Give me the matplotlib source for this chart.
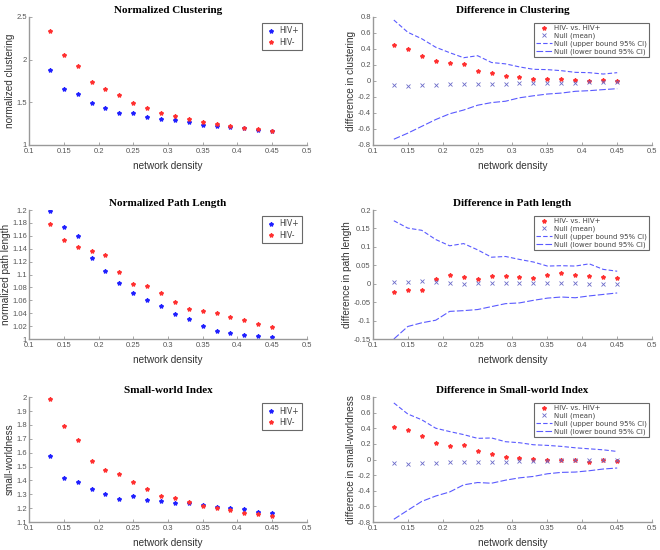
import numpy as np
import matplotlib
matplotlib.use("Agg")
import matplotlib.pyplot as plt
from matplotlib.ticker import FuncFormatter

plt.rcParams["axes.unicode_minus"] = False

# densidad de red (eje x comun)
density = [0.13, 0.15, 0.17, 0.19, 0.21, 0.23, 0.25, 0.27, 0.29,
           0.31, 0.33, 0.35, 0.37, 0.39, 0.41, 0.43, 0.45]

# =========================================================
# Datos
# =========================================================
clus_pos = [1.88, 1.66, 1.60, 1.49, 1.43, 1.37, 1.37, 1.33, 1.31,
            1.29, 1.27, 1.24, 1.22, 1.21, 1.20, 1.18, 1.165]
clus_neg = [2.34, 2.05, 1.92, 1.74, 1.66, 1.59, 1.49, 1.435, 1.37,
            1.335, 1.30, 1.265, 1.245, 1.225, 1.20, 1.185, 1.16]

path_pos = [1.199, 1.173, 1.160, 1.126, 1.105, 1.087, 1.072, 1.061, 1.051,
            1.039, 1.031, 1.020, 1.012, 1.010, 1.007, 1.005, 1.003]
path_neg = [1.178, 1.153, 1.142, 1.137, 1.130, 1.104, 1.085, 1.082, 1.072,
            1.057, 1.046, 1.044, 1.041, 1.034, 1.030, 1.023, 1.019]

sw_pos = [1.575, 1.42, 1.39, 1.335, 1.30, 1.265, 1.285, 1.26, 1.25,
          1.24, 1.24, 1.225, 1.21, 1.20, 1.195, 1.175, 1.165]
sw_neg = [1.99, 1.79, 1.69, 1.54, 1.475, 1.445, 1.385, 1.335, 1.29,
          1.27, 1.245, 1.215, 1.20, 1.19, 1.165, 1.16, 1.14]

dclus = [0.456, 0.40, 0.316, 0.248, 0.223, 0.214, 0.121, 0.104, 0.062,
         0.045, 0.023, 0.019, 0.023, 0.015, -0.002, 0.011, -0.006]
dclus_null = [-0.045, -0.057, -0.049, -0.053, -0.04, -0.036, -0.036, -0.032, -0.032,
              -0.028, -0.028, -0.023, -0.023, -0.019, -0.015, -0.015, -0.011]
dclus_up = [0.762, 0.609, 0.528, 0.422, 0.354, 0.291, 0.316, 0.231, 0.214,
            0.176, 0.146, 0.142, 0.129, 0.108, 0.104, 0.087, 0.104]
dclus_lo = [-0.728, -0.652, -0.567, -0.482, -0.41, -0.363, -0.303, -0.27, -0.253,
            -0.21, -0.185, -0.163, -0.151, -0.129, -0.121, -0.108, -0.096]

dpath = [-0.022, -0.018, -0.017, 0.012, 0.024, 0.017, 0.013, 0.02, 0.02,
         0.018, 0.015, 0.025, 0.028, 0.023, 0.022, 0.019, 0.015]
dpath_null = [0.006, 0.005, 0.007, 0.005, 0.003, 0.0, 0.001, 0.001, 0.003,
              0.002, 0.002, 0.001, 0.001, 0.001, 0.0, 0.0, 0.0]
dpath_up = [0.171, 0.151, 0.145, 0.12, 0.103, 0.109, 0.092, 0.072, 0.074,
            0.066, 0.059, 0.048, 0.049, 0.048, 0.054, 0.039, 0.034]
dpath_lo = [-0.15, -0.116, -0.106, -0.099, -0.075, -0.073, -0.07, -0.062, -0.054,
            -0.052, -0.045, -0.039, -0.036, -0.038, -0.033, -0.029, -0.025]

dsw = [0.419, 0.376, 0.303, 0.208, 0.177, 0.182, 0.104, 0.074, 0.039,
       0.026, 0.013, -0.004, -0.004, -0.009, -0.026, -0.004, -0.013]
dsw_null = [-0.043, -0.052, -0.048, -0.048, -0.035, -0.03, -0.03, -0.026, -0.03,
            -0.022, -0.017, -0.013, -0.009, -0.009, -0.004, -0.004, -0.004]
dsw_up = [0.726, 0.584, 0.51, 0.402, 0.359, 0.32, 0.272, 0.277, 0.229,
          0.216, 0.19, 0.182, 0.169, 0.151, 0.138, 0.125, 0.104]
dsw_lo = [-0.765, -0.649, -0.536, -0.467, -0.415, -0.324, -0.294, -0.303, -0.264,
          -0.234, -0.216, -0.182, -0.164, -0.16, -0.143, -0.121, -0.108]

# =========================================================
# Figura
# =========================================================
fig = plt.figure(figsize=(6.6, 5.5), dpi=100)

pos_left = [0.044, 0.421]
pos_right = [0.565, 0.423]
rows = [(0.7364, 0.2327), (0.3836, 0.2345), (0.0509, 0.227)]

TITLE_FONT = dict(family="Liberation Serif", fontweight="bold", fontsize=8)
LABEL_FONT = dict(family="Liberation Sans", fontsize=7.2, color="#333333")
BLUE = "#2020ff"
RED = "#ff3030"
NULLC = "#6a6ac8"
CIC = "#5a5aff"

# formato estilo MATLAB: 1.2, 1.18, 0 ...
fmt = FuncFormatter(lambda v, p: "%g" % (round(v, 4) + 0.0))


def style_axes(ax, ylim, yticks):
    ax.set_xlim(0.1, 0.5)
    ax.set_xticks(np.round(np.arange(0.1, 0.51, 0.05), 2))
    ax.set_ylim(*ylim)
    ax.set_yticks(np.round(yticks, 4) + 0.0)
    ax.xaxis.set_major_formatter(fmt)
    ax.yaxis.set_major_formatter(fmt)
    for s in ["top", "right"]:
        ax.spines[s].set_visible(False)
    for s in ["left", "bottom"]:
        ax.spines[s].set_color("#999999")
        ax.spines[s].set_linewidth(1.0)
    ax.tick_params(direction="in", length=2.5, width=0.6, colors="#999999",
                   labelsize=5.5, labelcolor="#555555", pad=1.5)
    ax.tick_params(axis="x", pad=2.5)
    for lab in ax.get_xticklabels() + ax.get_yticklabels():
        lab.set_family("Liberation Sans")


def left_panel(r, title, ylabel, pos, neg, ylim, yticks):
    ax = fig.add_axes([pos_left[0], rows[r][0], pos_left[1], rows[r][1]])
    ax.plot(density, pos, "*", color=BLUE, ms=3, label="HIV+")
    ax.plot(density, neg, "*", color=RED, ms=3, label="HIV-")
    style_axes(ax, ylim, yticks)
    ax.set_title(title, pad=3, **TITLE_FONT)
    ax.set_xlabel("network density", labelpad=4, **LABEL_FONT)
    ax.set_ylabel(ylabel, labelpad=1, **LABEL_FONT)
    leg = ax.legend(loc="upper right", fontsize=5.5, frameon=True, fancybox=False,
                    borderpad=0.4, handletextpad=0.3, handlelength=1.5,
                    labelspacing=0.3, bbox_to_anchor=(0.995, 0.98))
    leg.get_frame().set_edgecolor("#444444")
    leg.get_frame().set_linewidth(0.8)
    for t in leg.get_texts():
        t.set_color("#444444")
    return ax


def right_panel(r, title, ylabel, diff, null, up, lo, ylim, yticks):
    ax = fig.add_axes([pos_right[0], rows[r][0], pos_right[1], rows[r][1]])
    ax.plot(density, diff, "*", color=RED, ms=3, label="HIV- vs. HIV+")
    ax.plot(density, null, "x", color=NULLC, ms=2.5, mew=0.6, label="Null (mean)")
    ax.plot(density, up, color=CIC, lw=0.8, ls=(0, (4, 2)), label="Null (upper bound 95% CI)")
    ax.plot(density, lo, color=CIC, lw=0.8, ls=(0, (6, 2)), label="Null (lower bound 95% CI)")
    style_axes(ax, ylim, yticks)
    ax.set_title(title, pad=3, **TITLE_FONT)
    ax.set_xlabel("network density", labelpad=4, **LABEL_FONT)
    ax.set_ylabel(ylabel, labelpad=1, **LABEL_FONT)
    leg = ax.legend(loc="upper right", fontsize=5, frameon=True, fancybox=False,
                    borderpad=0.3, handletextpad=0.3, handlelength=2.2,
                    labelspacing=0.2, bbox_to_anchor=(1.0, 0.98))
    leg.get_frame().set_edgecolor("#444444")
    leg.get_frame().set_linewidth(0.8)
    for t in leg.get_texts():
        t.set_color("#444444")
    return ax


left_panel(0, "Normalized Clustering", "normalized clustering", clus_pos, clus_neg,
           (1, 2.5), [1, 1.5, 2, 2.5])
left_panel(1, "Normalized Path Length", "normalized path length", path_pos, path_neg,
           (1, 1.2), np.arange(1, 1.201, 0.02))
left_panel(2, "Small-world Index", "small-worldness", sw_pos, sw_neg,
           (1.1, 2), np.arange(1.1, 2.001, 0.1))

right_panel(0, "Difference in Clustering", "difference in clustering",
            dclus, dclus_null, dclus_up, dclus_lo, (-0.8, 0.8), np.arange(-0.8, 0.81, 0.2))
right_panel(1, "Difference in Path length", "difference in path length",
            dpath, dpath_null, dpath_up, dpath_lo, (-0.15, 0.2), np.arange(-0.15, 0.201, 0.05))
right_panel(2, "Difference in Small-world Index", "difference in small-worldness",
            dsw, dsw_null, dsw_up, dsw_lo, (-0.8, 0.8), np.arange(-0.8, 0.81, 0.2))

fig.savefig("out.png", dpi=100)
